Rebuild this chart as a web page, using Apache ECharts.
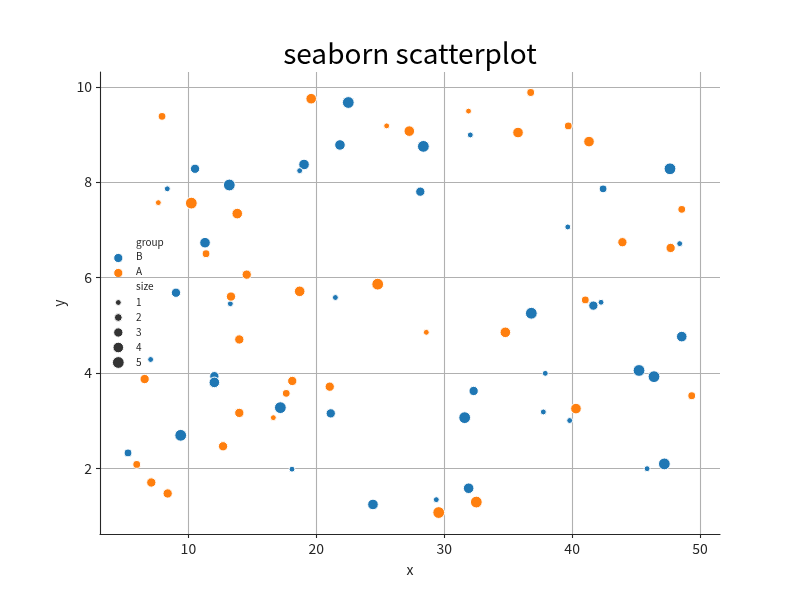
<!DOCTYPE html>
<html>
<head>
<meta charset="utf-8">
<title>seaborn scatterplot</title>
<script src="https://cdn.jsdelivr.net/npm/echarts@6/dist/echarts.min.js"></script>
<style>
  html, body { margin: 0; padding: 0; background: #fff; }
  #main { width: 800px; height: 600px; }
</style>
</head>
<body>
<div id="main"></div>
<script>
// data: [x, y, size]
const groupB = [
  [10.52, 8.28, 3], [19.04, 8.37, 4], [18.7, 8.24, 1], [8.35, 7.86, 1], [13.2, 7.94, 5],
  [22.5, 9.67, 5], [21.85, 8.78, 4], [28.37, 8.75, 5], [28.13, 7.80, 3], [32.04, 8.99, 1],
  [47.65, 8.28, 5], [42.42, 7.86, 2], [39.66, 7.06, 1], [11.3, 6.73, 4], [9.03, 5.68, 3],
  [13.28, 5.45, 1], [7.05, 4.28, 1], [21.49, 5.58, 1], [48.41, 6.71, 1], [41.66, 5.41, 3],
  [42.26, 5.48, 1], [36.81, 5.25, 5], [48.57, 4.76, 4], [37.9, 3.99, 1], [45.23, 4.05, 5],
  [46.4, 3.92, 5], [12.03, 3.93, 3], [12.03, 3.80, 4], [17.19, 3.27, 5], [9.4, 2.69, 5],
  [5.28, 2.32, 2], [18.1, 1.98, 1], [21.13, 3.15, 3], [32.3, 3.62, 3], [31.6, 3.06, 5],
  [24.43, 1.24, 4], [29.38, 1.34, 1], [31.91, 1.58, 4], [37.75, 3.18, 1], [39.81, 3.0, 1],
  [47.21, 2.09, 5], [45.86, 1.99, 1]
];
const groupA = [
  [7.94, 9.38, 2], [19.6, 9.75, 4], [7.65, 7.57, 1], [10.23, 7.56, 5], [13.82, 7.34, 4],
  [25.5, 9.18, 1], [27.27, 9.07, 4], [31.9, 9.49, 1], [36.76, 9.88, 2], [35.77, 9.04, 4],
  [39.7, 9.18, 2], [41.32, 8.85, 4], [48.57, 7.43, 2], [11.38, 6.50, 2], [14.56, 6.06, 3],
  [13.33, 5.60, 3], [18.7, 5.71, 4], [13.98, 4.70, 3], [24.8, 5.86, 5], [28.6, 4.85, 1],
  [34.78, 4.85, 4], [43.93, 6.74, 3], [47.7, 6.62, 3], [41.03, 5.53, 2], [6.58, 3.87, 3],
  [18.12, 3.83, 3], [17.65, 3.57, 2], [13.98, 3.16, 3], [16.64, 3.06, 1], [12.71, 2.46, 3],
  [5.96, 2.08, 2], [7.1, 1.70, 3], [8.38, 1.47, 3], [21.05, 3.71, 3], [29.57, 1.07, 5],
  [32.51, 1.29, 5], [49.35, 3.52, 2], [40.3, 3.25, 4]
];
const xTicks = [10, 20, 30, 40, 50];
const yTicks = [2, 4, 6, 8, 10];
const sizeLevels = [1, 2, 3, 4, 5];

const blue = '#1f77b4';
const orange = '#ff7f0e';
const diam = [5.9, 7.8, 9.3, 10.6, 11.8];
const font = '"Noto Sans CJK SC", "Noto Sans", sans-serif';

const chart = echarts.init(document.getElementById('main'));

// legend drawn as graphic (seaborn style with group / size sections)
const legendGraphic = [];
function legText(txt, x, y) {
  legendGraphic.push({
    type: 'text', left: x, top: y - 5.5,
    style: { text: txt, font: '10px ' + font, fill: '#262626' }
  });
}
function legDot(x, y, r, color) {
  legendGraphic.push({
    type: 'circle', shape: { cx: x, cy: y, r: r },
    style: { fill: color, stroke: '#fff', lineWidth: 1 }
  });
}
legText('group', 136, 243);
legDot(118.3, 258, 4.6, blue); legText('B', 136, 257);
legDot(118.3, 273, 4.6, orange); legText('A', 136, 272);
legText('size', 136, 287);
sizeLevels.forEach(function (s, i) {
  const y = 302.5 + i * 15;
  legDot(118.3, y, diam[i] / 2, '#333');
  legText(String(s), 136, y);
});

function makeSeries(name, data, color) {
  return {
    name: name,
    type: 'scatter',
    data: data,
    symbolSize: function (v) { return diam[v[2] - 1]; },
    itemStyle: { color: color, borderColor: '#fff', borderWidth: 1, opacity: 1 },
    emphasis: { disabled: true },
    animation: false
  };
}

chart.setOption({
  backgroundColor: '#fff',
  animation: false,
  title: {
    text: 'seaborn scatterplot',
    left: 405, top: 34, textAlign: 'center',
    textStyle: { fontFamily: font, fontSize: 28, fontWeight: 'normal', color: '#000' }
  },
  grid: { left: 100, top: 72, width: 620, height: 462 },
  xAxis: {
    type: 'value', min: 3.09, max: 51.56,
    name: 'x', nameLocation: 'middle', nameGap: 29,
    nameTextStyle: { fontFamily: font, fontSize: 14, color: '#262626' },
    axisLine: { lineStyle: { color: '#262626', width: 1.1 } },
    axisTick: { show: true, length: 4, inside: false, customValues: xTicks, lineStyle: { color: '#262626', width: 1.1 } },
    axisLabel: { customValues: xTicks, margin: 8, fontFamily: font, fontSize: 14, color: '#262626' },
    splitLine: { show: true, lineStyle: { color: '#b0b0b0', width: 1.1 } }
  },
  yAxis: {
    type: 'value', min: 0.62, max: 10.31,
    name: 'y', nameLocation: 'middle', nameGap: 31,
    nameTextStyle: { fontFamily: font, fontSize: 14, color: '#262626' },
    axisLine: { show: true, lineStyle: { color: '#262626', width: 1.1 } },
    axisTick: { show: true, length: 4, inside: false, customValues: yTicks, lineStyle: { color: '#262626', width: 1.1 } },
    axisLabel: { customValues: yTicks, margin: 8, fontFamily: font, fontSize: 14, color: '#262626' },
    splitLine: { show: true, lineStyle: { color: '#b0b0b0', width: 1.1 } }
  },
  graphic: legendGraphic,
  series: [
    makeSeries('B', groupB, blue),
    makeSeries('A', groupA, orange)
  ]
});
</script>
</body>
</html>
